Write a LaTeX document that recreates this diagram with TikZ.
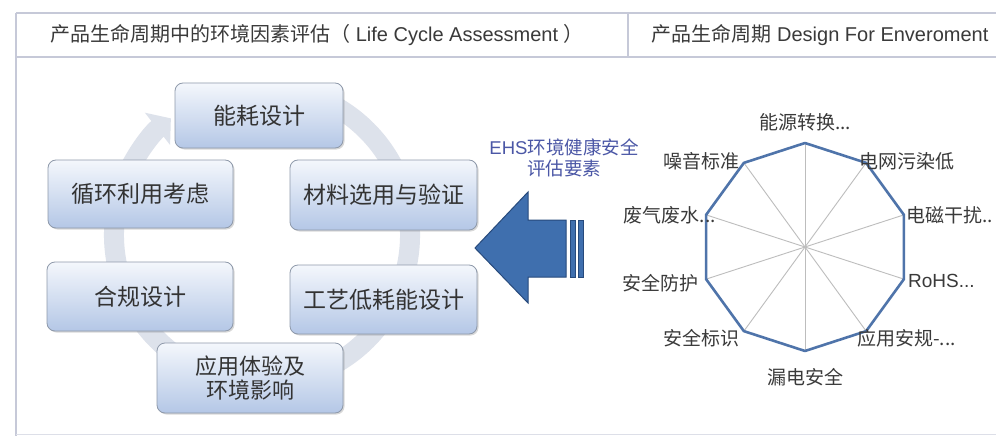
\documentclass[tikz,border=0pt]{standalone}
\usepackage{fontspec}
\setmainfont{Liberation Sans}
\newfontfamily\cjk{Noto Sans CJK SC}
\usetikzlibrary{arrows.meta,shadows,calc}
\definecolor{framec}{HTML}{C6C9D8}
\definecolor{boxtop}{HTML}{F4F7FC}
\definecolor{boxbot}{HTML}{B4C7E6}
\definecolor{boxedge}{HTML}{8E99AA}
\definecolor{boxtext}{HTML}{333333}
\definecolor{ringc}{HTML}{DDE2EB}
\definecolor{arrowfill}{HTML}{3F6FAE}
\definecolor{arrowedge}{HTML}{274A7C}
\definecolor{ehsc}{HTML}{4B57A6}
\definecolor{radarc}{HTML}{4F74AA}
\definecolor{spokec}{HTML}{BDBDBD}
\definecolor{labelc}{HTML}{3A3A3A}
\tikzset{
  framel/.style={draw=framec, line width=1.8pt},
  headtext/.style={text=labelc, font=\fontsize{20}{23}\selectfont, inner sep=0pt},
  cyclebox/.style={draw=boxedge, line width=0.8pt, rounded corners=8pt,
    top color=boxtop, bottom color=boxbot, minimum width=186pt, minimum height=69pt,
    font=\cjk\fontsize{23}{26}\selectfont, text=boxtext, align=center, inner sep=2pt,
    drop shadow={shadow xshift=1.5pt, shadow yshift=-1.5pt, opacity=0.3}},
  ring/.style={draw=ringc, line width=20pt},
  radarlabel/.style={text=labelc, font=\cjk\fontsize{19}{22}\selectfont, inner sep=0pt},
  bigarrow/.style={fill=arrowfill, draw=arrowedge, line width=1pt, line join=miter},
}
\begin{document}
\begin{tikzpicture}[x=1pt,y=-1pt]
\useasboundingbox (0,0) rectangle (996,436);
\fill[white] (0,0) rectangle (996,436);

% frame
\draw[framel] (16,13) -- (996,13);
\draw[framel] (16,57) -- (996,57);
\draw[framel] (16,13) -- (16,436);
\draw[framel] (628,13) -- (628,57);
\draw[draw=framec!60, line width=1pt] (16,434.5) -- (996,434.5);

% header texts
\node[headtext] (h1) at (317,35) {{\cjk 产品生命周期中的环境因素评估（} Life Cycle Assessment {\cjk ）}};
\node[headtext] (h2) at (820,35) {{\cjk 产品生命周期} Design For Enveroment};

% ring
\coordinate (rc) at (262,235);
\draw[ring, -{Triangle[length=17pt,width=40pt]}] (rc) ++(-65:148) arc[start angle=-65, end angle=232, radius=148];

% boxes
\node[cyclebox, minimum width=168pt, minimum height=65pt] (b1) at (259,115.5) {能耗设计};
\node[cyclebox, minimum width=187pt, minimum height=70pt] (b2) at (383.5,195) {材料选用与验证};
\node[cyclebox, minimum width=187pt, minimum height=69pt] (b3) at (383.5,299.5) {工艺低耗能设计};
\node[cyclebox, minimum width=186pt, minimum height=70pt, font=\cjk\fontsize{22}{24}\selectfont] (b4) at (250,378) {应用体验及\\环境影响};
\node[cyclebox, minimum width=186pt, minimum height=69pt] (b5) at (140,296.5) {合规设计};
\node[cyclebox, minimum width=185pt, minimum height=68pt] (b6) at (140.5,194) {循环利用考虑};

% EHS text
\node[text=ehsc, font=\fontsize{18.5}{21}\selectfont, align=center, inner sep=0pt] (ehs) at (564,158)
  {EHS{\cjk 环境健康安全}\\{\cjk 评估要素}};

% big arrow
\draw[bigarrow] (475,248) -- (528,192) -- (528,220) -- (566,220) -- (566,277) -- (528,277) -- (528,303) -- cycle;
\draw[bigarrow] (570.5,220) rectangle (575,277);
\draw[bigarrow] (578,220) rectangle (583,277);

% radar
\coordinate (c) at (805,247);
\foreach \i in {0,...,9} {
  \coordinate (v\i) at ($(c)+(-90+36*\i:104)$);
}
\foreach \i in {0,...,9} {
  \draw[spokec, line width=0.9pt] (c) -- (v\i);
}
\draw[radarc, line width=2.6pt, line join=round] (v0) -- (v1) -- (v2) -- (v3) -- (v4) -- (v5) -- (v6) -- (v7) -- (v8) -- (v9) -- cycle;

\node[radarlabel] (l0) at (805,122) {能源转换...};
\node[radarlabel, anchor=west] (l1) at (859,161) {电网污染低};
\node[radarlabel, anchor=west] (l2) at (906,215) {电磁干扰..};
\node[radarlabel, anchor=west, font=\fontsize{19}{22}\selectfont] (l3) at (908,281) {RoHS...};
\node[radarlabel, anchor=west] (l4) at (857,338) {应用安规-...};
\node[radarlabel] (l5) at (805,377) {漏电安全};
\node[radarlabel, anchor=east] (l6) at (740,338) {安全标识};
\node[radarlabel, anchor=east] (l7) at (699,283) {安全防护};
\node[radarlabel, anchor=east] (l8) at (716,215) {废气废水...};
\node[radarlabel, anchor=east] (l9) at (740,161) {噪音标准};
\end{tikzpicture}
\end{document}
